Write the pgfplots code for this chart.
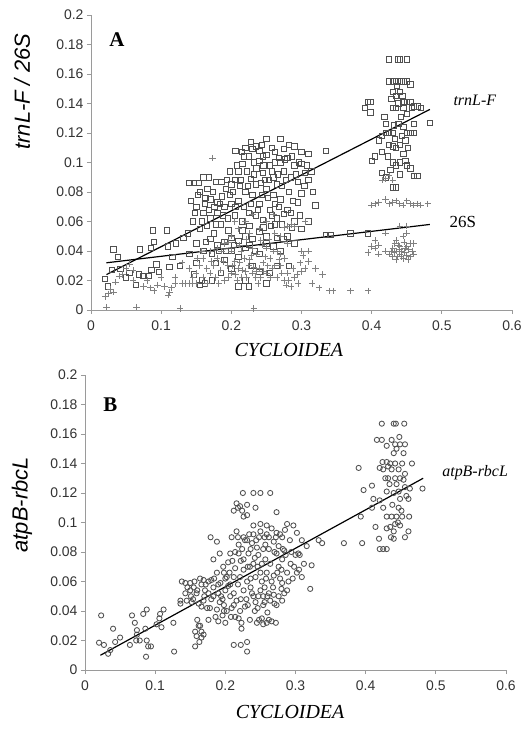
\documentclass[border=0pt]{standalone}
\usepackage{pgfplots}
\usepackage{fontspec}
\pgfplotsset{compat=1.18}
\setmainfont{Liberation Serif}
\newfontfamily\arial{Liberation Sans}
\definecolor{sq}{HTML}{505050}
\definecolor{pl}{HTML}{808080}
\definecolor{axgray}{HTML}{9A9A9A}

\pgfplotsset{
  panel/.style={
    scale only axis, width=421bp, height=295bp,
    xmin=0, xmax=0.6, ymin=0, ymax=0.2,
    axis x line=bottom, axis y line=left,
    axis line style={-, axgray, line width=0.8bp},
    tick style={axgray, line width=0.8bp},
    tick align=outside, major tick length=4bp,
    xtick={0,0.1,...,0.6}, ytick={0,0.02,...,0.2},
    scaled ticks=false,
    ticklabel style={font=\arial\fontsize{14}{14}\selectfont, text=black!80,
      /pgf/number format/fixed, /pgf/number format/precision=2,
      /pgf/number format/assume math mode=true},
    xticklabel style={yshift=-3bp},
    clip=false,
  },
}

\begin{document}
\begin{tikzpicture}
\path[use as bounding box] (0,0) rectangle (528bp,730bp);

% ---------- panel A ----------
\begin{axis}[panel, at={(91bp,420bp)}, anchor=south west,
  xlabel={\fontsize{20}{20}\selectfont\itshape CYCLOIDEA},
  xlabel style={at={(rel axis cs:0.47,-0.136)}, anchor=center},
  ylabel={\arial\fontsize{22}{22}\selectfont\itshape trnL-F / 26S},
  ylabel style={at={(rel axis cs:-0.164,0.74)}, anchor=center}]
% trnL-F
\addplot[only marks, mark=square, mark size=2.7bp, sq, mark options={line width=0.85bp}] coordinates {
(0.020,0.021)(0.024,0.016)(0.032,0.041)(0.038,0.036)(0.030,0.027)(0.042,0.028)
(0.050,0.022)(0.055,0.025)(0.064,0.017)(0.070,0.041)(0.068,0.024)(0.075,0.023)
(0.082,0.023)(0.086,0.027)(0.085,0.042)(0.088,0.054)(0.090,0.046)(0.093,0.031)
(0.097,0.026)(0.108,0.054)(0.110,0.043)(0.112,0.029)(0.116,0.036)(0.121,0.045)
(0.127,0.030)(0.132,0.049)(0.138,0.052)(0.140,0.038)(0.147,0.024)(0.155,0.017)
(0.158,0.020)
(0.215,0.107)(0.220,0.110)(0.230,0.109)(0.235,0.111)(0.240,0.108)(0.250,0.116)
(0.258,0.110)(0.262,0.107)(0.270,0.116)(0.275,0.109)(0.282,0.112)(0.290,0.111)
(0.300,0.107)(0.310,0.106)(0.335,0.108)(0.225,0.104)(0.245,0.104)(0.268,0.103)
(0.140,0.086)(0.147,0.086)(0.154,0.086)(0.160,0.090)(0.168,0.090)(0.178,0.087)
(0.155,0.080)(0.163,0.076)(0.170,0.075)(0.180,0.073)(0.187,0.077)(0.192,0.082)
(0.200,0.085)(0.205,0.088)(0.210,0.094)(0.216,0.099)(0.222,0.094)(0.228,0.089)
(0.235,0.085)(0.240,0.101)(0.245,0.093)(0.250,0.105)(0.255,0.098)(0.260,0.090)
(0.265,0.085)(0.270,0.100)(0.275,0.094)(0.280,0.103)(0.285,0.090)(0.290,0.098)
(0.295,0.087)(0.300,0.099)(0.305,0.093)(0.310,0.088)(0.300,0.079)(0.295,0.073)
(0.320,0.071)(0.280,0.068)(0.270,0.075)(0.260,0.078)(0.250,0.082)(0.240,0.072)
(0.230,0.078)(0.220,0.080)(0.210,0.074)(0.200,0.072)(0.190,0.070)(0.180,0.066)
(0.170,0.062)(0.160,0.066)(0.150,0.070)(0.145,0.060)(0.155,0.055)(0.165,0.057)
(0.175,0.052)(0.185,0.058)(0.195,0.062)(0.205,0.064)(0.215,0.060)(0.225,0.066)
(0.235,0.064)(0.245,0.061)(0.255,0.068)(0.265,0.062)(0.275,0.065)(0.285,0.066)
(0.265,0.049)(0.250,0.050)(0.240,0.053)(0.230,0.048)(0.220,0.050)(0.210,0.047)
(0.200,0.049)(0.190,0.046)(0.180,0.044)(0.170,0.048)(0.160,0.040)(0.150,0.045)
(0.172,0.038)(0.182,0.040)(0.190,0.034)(0.200,0.040)(0.210,0.036)(0.220,0.042)
(0.230,0.030)(0.240,0.038)(0.250,0.045)(0.260,0.043)(0.270,0.040)(0.280,0.050)
(0.290,0.045)(0.300,0.055)(0.310,0.060)(0.290,0.060)(0.225,0.016)(0.220,0.020)
(0.210,0.016)(0.255,0.025)(0.265,0.030)(0.200,0.028)(0.185,0.025)(0.172,0.020)
(0.162,0.018)(0.240,0.026)(0.250,0.018)(0.282,0.030)(0.335,0.051)(0.341,0.051)
(0.370,0.052)(0.395,0.052)(0.232,0.092)(0.258,0.094)(0.248,0.088)(0.262,0.072)
(0.238,0.068)(0.212,0.084)(0.198,0.078)(0.186,0.087)(0.226,0.057)(0.256,0.057)
(0.272,0.058)(0.244,0.078)(0.218,0.070)(0.196,0.054)(0.176,0.070)(0.166,0.082)
(0.142,0.074)(0.148,0.066)(0.152,0.078)(0.158,0.060)(0.162,0.072)(0.168,0.068)
(0.174,0.080)(0.178,0.058)(0.184,0.072)(0.188,0.064)(0.194,0.088)(0.198,0.094)
(0.202,0.080)(0.206,0.070)(0.208,0.098)(0.214,0.088)(0.218,0.104)(0.224,0.084)
(0.228,0.072)(0.232,0.100)(0.236,0.096)(0.242,0.086)(0.246,0.098)(0.252,0.076)
(0.254,0.088)(0.258,0.064)(0.262,0.100)(0.266,0.092)(0.268,0.070)(0.272,0.084)
(0.276,0.102)(0.278,0.088)(0.282,0.080)(0.286,0.104)(0.288,0.074)(0.292,0.092)
(0.296,0.100)(0.298,0.064)(0.304,0.084)(0.308,0.098)(0.314,0.094)(0.316,0.080)
(0.150,0.032)(0.164,0.046)(0.178,0.032)(0.192,0.040)(0.204,0.044)(0.216,0.054)
(0.226,0.044)(0.234,0.040)(0.246,0.056)(0.262,0.058)(0.274,0.048)(0.286,0.056)
(0.206,0.108)(0.244,0.112)(0.228,0.114)
(0.390,0.137)(0.395,0.141)(0.398,0.141)(0.398,0.134)(0.400,0.101)(0.405,0.104)
(0.410,0.115)(0.415,0.107)(0.415,0.093)(0.420,0.126)(0.420,0.120)(0.420,0.090)
(0.425,0.155)(0.430,0.155)(0.428,0.143)(0.425,0.170)(0.437,0.170)(0.440,0.170)
(0.450,0.170)(0.435,0.155)(0.440,0.155)(0.445,0.155)(0.450,0.155)(0.455,0.153)
(0.430,0.148)(0.435,0.145)(0.440,0.148)(0.445,0.141)(0.450,0.141)(0.455,0.141)
(0.460,0.138)(0.465,0.138)(0.470,0.137)(0.430,0.137)(0.435,0.137)(0.445,0.137)
(0.450,0.133)(0.432,0.125)(0.438,0.126)(0.445,0.124)(0.460,0.126)(0.483,0.127)
(0.425,0.112)(0.430,0.111)(0.435,0.110)(0.440,0.112)(0.445,0.106)(0.448,0.101)
(0.440,0.100)(0.430,0.100)(0.435,0.098)(0.450,0.098)(0.455,0.120)(0.460,0.120)
(0.425,0.120)(0.430,0.120)(0.450,0.120)(0.455,0.096)(0.460,0.091)(0.465,0.091)
(0.430,0.083)(0.435,0.083)(0.440,0.092)(0.415,0.118)(0.442,0.131)(0.448,0.115)
(0.418,0.131)(0.423,0.104)(0.433,0.116)(0.438,0.140)(0.443,0.118)(0.452,0.110)
(0.457,0.137)(0.427,0.095)(0.444,0.145)(0.436,0.152)
};
% 26S
\addplot[only marks, mark=+, mark size=3.2bp, pl, mark options={line width=0.8bp}] coordinates {
(0.020,0.009)(0.025,0.011)(0.028,0.014)(0.032,0.012)(0.035,0.019)(0.040,0.023)
(0.045,0.024)(0.022,0.002)(0.065,0.002)(0.127,0.001)(0.232,0.001)(0.050,0.028)
(0.060,0.020)(0.075,0.016)(0.085,0.015)(0.090,0.013)(0.095,0.017)(0.105,0.016)
(0.110,0.010)(0.112,0.012)(0.115,0.015)(0.120,0.018)(0.130,0.018)(0.135,0.018)
(0.140,0.018)(0.145,0.018)(0.150,0.018)(0.055,0.031)(0.060,0.027)(0.080,0.020)
(0.100,0.022)(0.120,0.022)(0.130,0.032)(0.140,0.028)(0.150,0.025)(0.155,0.030)
(0.160,0.022)(0.170,0.025)(0.173,0.103)(0.175,0.030)(0.180,0.035)(0.185,0.027)
(0.190,0.020)(0.195,0.030)(0.200,0.025)(0.205,0.033)(0.210,0.028)(0.215,0.022)
(0.220,0.026)(0.225,0.030)(0.230,0.025)(0.235,0.022)(0.240,0.028)(0.245,0.032)
(0.250,0.025)(0.255,0.035)(0.260,0.040)(0.265,0.022)(0.270,0.030)(0.275,0.020)
(0.280,0.025)(0.285,0.016)(0.290,0.022)(0.295,0.018)(0.300,0.026)(0.305,0.028)
(0.310,0.033)(0.315,0.018)(0.320,0.028)(0.330,0.024)(0.325,0.015)(0.340,0.013)
(0.345,0.013)(0.370,0.013)(0.395,0.013)(0.190,0.045)(0.200,0.050)(0.210,0.055)
(0.220,0.060)(0.230,0.065)(0.240,0.055)(0.250,0.060)(0.260,0.065)(0.270,0.050)
(0.280,0.057)(0.285,0.058)(0.290,0.057)(0.300,0.040)(0.310,0.040)(0.302,0.037)
(0.180,0.042)(0.170,0.040)(0.160,0.035)(0.200,0.040)(0.230,0.042)(0.250,0.042)
(0.270,0.038)(0.280,0.045)(0.305,0.060)(0.165,0.028)(0.178,0.022)(0.188,0.033)
(0.208,0.020)(0.218,0.035)(0.228,0.037)(0.238,0.018)(0.248,0.036)(0.258,0.028)
(0.268,0.034)(0.278,0.017)(0.212,0.044)(0.242,0.047)(0.262,0.052)(0.226,0.052)
(0.145,0.022)(0.152,0.035)(0.158,0.040)(0.166,0.018)(0.172,0.033)(0.182,0.018)
(0.186,0.040)(0.196,0.022)(0.202,0.030)(0.206,0.024)(0.212,0.032)(0.216,0.027)
(0.222,0.022)(0.226,0.034)(0.232,0.029)(0.236,0.026)(0.242,0.022)(0.246,0.026)
(0.252,0.030)(0.256,0.022)(0.262,0.030)(0.266,0.040)(0.272,0.025)(0.276,0.035)
(0.282,0.020)(0.288,0.028)(0.294,0.024)(0.298,0.032)(0.236,0.038)(0.244,0.044)
(0.254,0.048)(0.214,0.040)(0.196,0.046)(0.221,0.048)(0.275,0.056)(0.205,0.060)
(0.400,0.071)(0.405,0.072)(0.410,0.073)(0.420,0.075)(0.425,0.072)(0.430,0.073)
(0.435,0.074)(0.440,0.072)(0.445,0.071)(0.450,0.074)(0.455,0.072)(0.460,0.071)
(0.465,0.072)(0.470,0.071)(0.480,0.072)(0.415,0.088)(0.420,0.089)(0.425,0.091)
(0.430,0.088)(0.395,0.039)(0.400,0.043)(0.405,0.042)(0.410,0.044)(0.420,0.040)
(0.425,0.038)(0.430,0.036)(0.435,0.040)(0.440,0.038)(0.445,0.035)(0.450,0.037)
(0.455,0.036)(0.460,0.038)(0.430,0.042)(0.440,0.043)(0.450,0.043)(0.455,0.045)
(0.460,0.045)(0.435,0.047)(0.445,0.050)(0.450,0.052)(0.420,0.052)(0.440,0.057)
(0.450,0.057)(0.435,0.034)(0.440,0.041)(0.447,0.039)(0.453,0.041)(0.437,0.036)
(0.405,0.047)(0.410,0.038)(0.432,0.039)(0.438,0.044)(0.442,0.036)(0.448,0.042)
(0.452,0.034)(0.458,0.040)(0.428,0.040)(0.433,0.045)(0.443,0.040)(0.446,0.046)
};
\addplot[black, line width=1.2bp] coordinates {(0.022,0.024) (0.483,0.136)};
\addplot[black, line width=1.2bp] coordinates {(0.022,0.032) (0.483,0.058)};
\node[font=\fontsize{21}{21}\selectfont\bfseries] at (axis cs:0.037,0.183) {A};
\node[font=\fontsize{16}{16}\selectfont\itshape] at (axis cs:0.547,0.142) {trnL-F};
\node[font=\fontsize{17}{17}\selectfont] at (axis cs:0.530,0.060) {26S};
\end{axis}

% ---------- panel B ----------
\begin{axis}[panel, at={(85bp,60bp)}, anchor=south west,
  xlabel={\fontsize{20}{20}\selectfont\itshape CYCLOIDEA},
  xlabel style={at={(rel axis cs:0.487,-0.142)}, anchor=center},
  ylabel={\arial\fontsize{22}{22}\selectfont\itshape atpB-rbcL},
  ylabel style={at={(rel axis cs:-0.15,0.56)}, anchor=center}]
\addplot[only marks, mark=o, mark size=2.6bp, sq, mark options={line width=0.85bp}] coordinates {
(0.020,0.0185)(0.027,0.017)(0.023,0.037)(0.040,0.028)(0.033,0.011)(0.036,0.0135)
(0.043,0.019)(0.050,0.022)(0.064,0.017)(0.067,0.037)(0.071,0.032)(0.074,0.027)
(0.074,0.024)(0.073,0.020)(0.078,0.020)(0.083,0.038)(0.088,0.041)(0.088,0.020)
(0.086,0.028)(0.087,0.009)(0.090,0.016)(0.094,0.016)(0.102,0.031)(0.107,0.038)
(0.112,0.041)(0.106,0.035)(0.109,0.029)(0.127,0.0125)(0.126,0.032)(0.136,0.045)
(0.136,0.047)(0.143,0.052)(0.138,0.060)(0.143,0.059)(0.150,0.059)(0.145,0.047)
(0.151,0.050)(0.155,0.056)(0.157,0.026)(0.162,0.030)(0.159,0.023)(0.157,0.016)
(0.163,0.019)(0.166,0.026)(0.169,0.024)(0.164,0.062)(0.169,0.061)(0.171,0.054)
(0.174,0.042)(0.179,0.090)(0.183,0.075)(0.188,0.087)(0.192,0.079)(0.188,0.066)
(0.183,0.050)(0.188,0.041)(0.192,0.046)(0.196,0.037)(0.198,0.044)(0.200,0.054)
(0.202,0.063)(0.204,0.073)(0.207,0.079)(0.209,0.090)(0.212,0.017)(0.222,0.017)
(0.231,0.019)(0.231,0.0125)(0.212,0.108)(0.216,0.113)(0.221,0.111)(0.225,0.120)
(0.240,0.120)(0.250,0.120)(0.264,0.120)(0.231,0.112)(0.243,0.110)(0.231,0.105)
(0.226,0.104)(0.240,0.098)(0.250,0.099)(0.259,0.098)(0.273,0.107)(0.288,0.099)
(0.297,0.098)(0.302,0.093)(0.309,0.088)(0.316,0.084)(0.323,0.071)(0.321,0.055)
(0.309,0.063)(0.305,0.068)(0.300,0.078)(0.293,0.072)(0.288,0.066)(0.281,0.059)
(0.284,0.052)(0.288,0.054)(0.281,0.047)(0.273,0.044)(0.266,0.033)(0.259,0.032)
(0.252,0.035)(0.245,0.032)(0.235,0.034)(0.223,0.032)(0.219,0.035)(0.221,0.040)
(0.228,0.043)(0.238,0.052)(0.247,0.050)(0.254,0.050)(0.262,0.052)(0.269,0.051)
(0.212,0.052)(0.216,0.047)(0.207,0.050)(0.243,0.063)(0.252,0.060)(0.259,0.066)
(0.269,0.064)(0.276,0.070)(0.257,0.075)(0.247,0.078)(0.240,0.072)(0.233,0.079)
(0.226,0.075)(0.219,0.079)(0.214,0.069)(0.221,0.063)(0.231,0.060)(0.219,0.085)
(0.231,0.088)(0.240,0.092)(0.250,0.094)(0.259,0.092)(0.266,0.096)(0.273,0.093)
(0.281,0.090)(0.285,0.095)(0.269,0.087)(0.257,0.085)(0.245,0.083)(0.235,0.070)
(0.273,0.079)(0.281,0.075)(0.250,0.066)(0.212,0.063)(0.207,0.058)(0.197,0.070)
(0.193,0.059)(0.183,0.056)(0.176,0.052)(0.169,0.047)(0.162,0.045)(0.150,0.054)
(0.159,0.052)(0.166,0.043)(0.178,0.042)(0.190,0.052)(0.202,0.040)(0.209,0.042)
(0.214,0.036)(0.223,0.028)(0.243,0.046)(0.254,0.044)(0.264,0.047)(0.154,0.048)
(0.172,0.058)(0.180,0.061)(0.196,0.048)(0.204,0.057)(0.226,0.068)(0.236,0.062)
(0.246,0.070)(0.256,0.056)(0.262,0.082)(0.276,0.084)(0.292,0.088)(0.304,0.079)
(0.226,0.090)(0.236,0.082)(0.218,0.058)(0.242,0.040)(0.260,0.039)(0.230,0.048)
(0.186,0.036)(0.176,0.034)(0.198,0.066)(0.268,0.056)(0.278,0.062)(0.296,0.062)
(0.333,0.088)(0.338,0.086)(0.369,0.086)(0.216,0.094)(0.284,0.081)(0.312,0.072)
(0.146,0.056)(0.152,0.046)(0.156,0.060)(0.160,0.054)(0.166,0.058)(0.170,0.050)
(0.176,0.060)(0.180,0.048)(0.184,0.062)(0.190,0.058)(0.194,0.050)(0.200,0.062)
(0.206,0.066)(0.210,0.074)(0.214,0.080)(0.218,0.090)(0.222,0.074)(0.224,0.082)
(0.228,0.088)(0.232,0.070)(0.234,0.092)(0.238,0.086)(0.242,0.076)(0.244,0.088)
(0.248,0.090)(0.252,0.072)(0.254,0.082)(0.256,0.090)(0.258,0.062)(0.262,0.090)
(0.264,0.072)(0.266,0.060)(0.270,0.080)(0.272,0.090)(0.274,0.066)(0.278,0.092)
(0.280,0.068)(0.282,0.082)(0.286,0.078)(0.290,0.060)(0.294,0.080)(0.298,0.070)
(0.302,0.066)(0.306,0.078)(0.222,0.048)(0.226,0.054)(0.232,0.044)(0.236,0.056)
(0.240,0.050)(0.246,0.042)(0.250,0.054)(0.256,0.046)(0.260,0.050)(0.270,0.045)
(0.276,0.050)(0.280,0.055)(0.218,0.110)(0.224,0.108)(0.212,0.044)(0.208,0.036)
(0.200,0.032)(0.198,0.040)(0.248,0.034)(0.254,0.031)(0.262,0.034)(0.272,0.032)
(0.190,0.033)(0.164,0.030)(0.160,0.034)(0.166,0.022)
(0.390,0.137)(0.397,0.122)(0.393,0.104)(0.395,0.086)(0.409,0.125)(0.411,0.116)
(0.409,0.110)(0.414,0.097)(0.419,0.089)(0.416,0.156)(0.423,0.156)(0.423,0.167)
(0.440,0.167)(0.443,0.167)(0.455,0.167)(0.424,0.141)(0.430,0.141)(0.435,0.140)
(0.442,0.140)(0.420,0.137)(0.425,0.136)(0.432,0.130)(0.442,0.130)(0.449,0.130)
(0.454,0.129)(0.430,0.152)(0.442,0.153)(0.449,0.153)(0.456,0.153)(0.440,0.147)
(0.454,0.147)(0.437,0.156)(0.466,0.140)(0.481,0.123)(0.463,0.123)(0.461,0.116)
(0.449,0.116)(0.440,0.120)(0.430,0.121)(0.420,0.115)(0.425,0.110)(0.430,0.104)
(0.437,0.104)(0.444,0.104)(0.442,0.099)(0.435,0.097)(0.449,0.098)(0.461,0.094)
(0.456,0.090)(0.440,0.089)(0.430,0.096)(0.420,0.082)(0.425,0.082)(0.430,0.082)
(0.447,0.110)(0.451,0.108)(0.456,0.124)(0.447,0.121)(0.447,0.136)(0.437,0.136)
(0.456,0.133)(0.434,0.126)(0.438,0.112)(0.444,0.126)(0.452,0.104)(0.446,0.100)
(0.440,0.094)(0.452,0.140)(0.428,0.130)(0.432,0.138)(0.444,0.150)(0.448,0.158)
(0.458,0.118)(0.462,0.104)(0.436,0.090)
};
\addplot[black, line width=1.2bp] coordinates {(0.022,0.010) (0.482,0.130)};
\node[font=\fontsize{21}{21}\selectfont\bfseries] at (axis cs:0.036,0.180) {B};
\node[font=\fontsize{16}{16}\selectfont\itshape] at (axis cs:0.556,0.134) {atpB-rbcL};
\end{axis}
\end{tikzpicture}
\end{document}
